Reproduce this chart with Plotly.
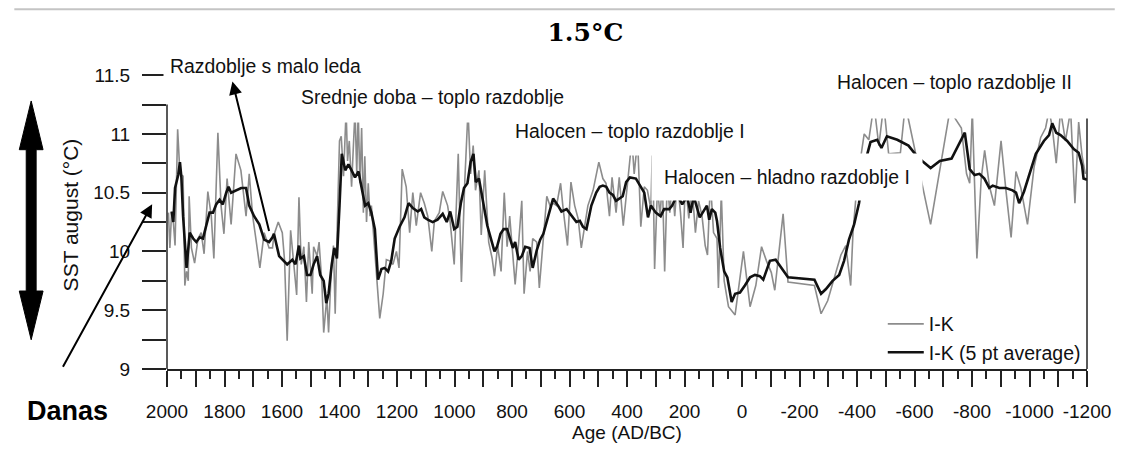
import plotly.graph_objects as go

# ---------------- data ----------------
raw_years = [1995, 1990, 1984, 1978, 1972, 1963, 1955, 1944, 1938, 1932, 1926, 1923, 1915, 1904, 1892,
             1881, 1871, 1858, 1846, 1837, 1823, 1812, 1802, 1791, 1777, 1760, 1743, 1725, 1714, 1702,
             1691, 1677, 1662, 1645, 1633, 1628, 1613, 1599, 1591, 1582, 1570, 1559, 1549, 1541, 1533,
             1524, 1515, 1507, 1495, 1490, 1478, 1471, 1461, 1455, 1444, 1438, 1429, 1421, 1415, 1407,
             1400, 1394, 1386, 1377, 1372, 1366, 1358, 1352, 1346, 1340, 1335, 1329, 1323, 1317, 1312,
             1306, 1300, 1294, 1289, 1283, 1271, 1260, 1248, 1237, 1225, 1214, 1202, 1193, 1182, 1168,
             1156, 1145, 1133, 1118, 1105, 1093, 1079, 1070, 1053, 1041, 1024, 1015, 1001, 987, 976,
             964, 953, 944, 935, 927, 915, 907, 895, 881, 869, 861, 850, 838, 827, 817,
             808, 797, 789, 777, 766, 758, 746, 737, 728, 714, 705, 691, 679, 668, 656,
             645, 631, 622, 607, 595, 582, 570, 559, 547, 536, 518, 498, 484, 473, 461,
             452, 438, 427, 413, 398, 383, 375, 363, 352, 340, 329, 317, 311, 304, 294,
             285, 277, 269, 260, 251, 243, 234, 225, 214, 205, 197, 185, 174, 162, 151,
             139, 128, 120, 110, 99, 87, 82, 72, 62, 47, 24, 13, -5, -28, -48,
             -68, -85, -102, -114, -143, -160, -252, -275, -298, -321, -344, -361, -378, -386, -401,
             -425, -441, -459, -476, -493, -510, -551, -568, -656, -723, -763, -781, -792, -801, -817,
             -832, -844, -861, -878, -901, -918, -936, -953, -970, -993, -1016, -1039, -1056, -1068, -1079,
             -1093, -1108, -1125, -1143, -1158, -1171, -1183, -1194]
raw_sst = [10.33, 10.03, 10.33, 10.25, 10.05, 11.04, 10.66, 10.64, 9.71, 9.83, 9.75, 10.47, 10.03, 9.90, 10.11,
           10.16, 9.98, 10.51, 10.30, 9.94, 11.01, 10.39, 10.15, 10.62, 10.23, 10.83, 10.69, 10.30, 10.66, 10.30,
           10.11, 9.86, 10.16, 10.03, 10.03, 10.14, 10.25, 10.16, 9.92, 9.24, 10.18, 9.86, 9.63, 10.46, 9.89,
           10.04, 9.57, 10.08, 9.64, 10.04, 9.96, 10.08, 9.72, 9.31, 9.61, 9.31, 9.83, 10.05, 9.47, 10.30,
           10.94, 10.98, 10.64, 11.20, 10.77, 10.94, 10.55, 10.88, 11.20, 10.66, 11.20, 10.58, 11.05, 10.33, 10.81,
           10.25, 10.58, 10.30, 10.39, 10.19, 9.80, 9.43, 9.64, 9.93, 9.92, 9.89, 10.00, 9.86, 10.70, 10.55,
           10.16, 10.50, 10.22, 10.50, 10.41, 10.30, 10.00, 10.26, 10.33, 10.51, 10.39, 10.25, 9.89, 10.83, 9.74,
           10.61, 11.20, 10.66, 10.90, 10.52, 10.69, 10.14, 10.69, 10.08, 9.94, 9.79, 10.05, 9.83, 10.50, 10.04,
           10.30, 9.92, 9.72, 10.07, 10.43, 9.64, 10.00, 9.83, 10.11, 10.08, 9.69, 10.11, 10.47, 10.39, 10.41,
           10.39, 10.58, 10.36, 10.05, 10.59, 10.39, 10.28, 10.03, 10.22, 10.39, 10.52, 10.76, 10.62, 10.58, 10.30,
           10.63, 10.33, 10.63, 10.22, 10.58, 10.95, 10.66, 10.95, 10.21, 10.55, 10.52, 10.36, 10.95, 9.85, 10.55,
           10.30, 10.60, 9.83, 10.60, 10.33, 10.60, 10.30, 10.60, 10.33, 10.03, 10.60, 10.28, 10.55, 10.16, 10.43,
           10.30, 10.05, 9.97, 10.60, 10.16, 10.11, 9.69, 10.50, 9.75, 9.53, 9.46, 9.67, 10.00, 9.53, 9.71,
           10.04, 9.92, 9.82, 9.67, 10.32, 9.74, 9.71, 9.47, 9.58, 9.78, 9.97, 10.05, 9.71, 10.16, 10.60,
           11.00, 10.95, 11.25, 10.90, 11.25, 10.83, 10.84, 11.25, 10.23, 11.20, 11.05, 10.66, 10.58, 11.20, 9.94,
           10.62, 10.86, 10.55, 10.39, 10.94, 10.52, 10.12, 10.68, 10.54, 10.23, 10.72, 10.97, 11.05, 11.20, 11.06,
           10.75, 11.20, 10.94, 11.20, 10.41, 11.10, 10.81, 10.66]

avg_years = [1984, 1978, 1972, 1961, 1955, 1950, 1944, 1932, 1921, 1909, 1898, 1886, 1875, 1863, 1852,
             1840, 1829, 1817, 1806, 1794, 1786, 1777, 1760, 1742, 1725, 1714, 1697, 1679, 1662, 1645,
             1633, 1628, 1610, 1599, 1582, 1564, 1553, 1541, 1536, 1524, 1513, 1501, 1490, 1478, 1467,
             1455, 1446, 1438, 1427, 1418, 1409, 1400, 1392, 1380, 1369, 1358, 1346, 1334, 1323, 1311,
             1300, 1289, 1277, 1266, 1254, 1243, 1231, 1220, 1208, 1191, 1174, 1160, 1145, 1128, 1116,
             1105, 1093, 1076, 1059, 1041, 1027, 1015, 1001, 990, 978, 967, 955, 944, 934, 926,
             915, 903, 886, 861, 852, 840, 829, 817, 806, 797, 789, 777, 766, 754, 739,
             728, 714, 702, 691, 674, 657, 640, 628, 610, 593, 576, 564, 553, 541, 524,
             507, 495, 484, 472, 461, 449, 438, 426, 415, 403, 390, 369, 352, 340, 327,
             317, 300, 283, 271, 253, 243, 225, 208, 191, 179, 168, 147, 134, 122, 114,
             105, 93, 87, 76, 62, 51, 36, 24, 7, -10, -28, -45, -62, -74, -97,
             -117, -137, -160, -252, -275, -292, -315, -338, -355, -372, -390, -407, -425, -436, -447,
             -470, -485, -504, -540, -579, -602, -631, -656, -688, -729, -775, -792, -809, -826, -843,
             -860, -872, -895, -918, -941, -953, -964, -981, -999, -1022, -1050, -1068, -1079, -1093, -1108,
             -1131, -1154, -1171, -1183, -1188, -1200]
avg_sst = [10.34, 10.25, 10.54, 10.65, 10.76, 10.63, 10.30, 9.86, 10.16, 10.11, 10.08, 10.12, 10.11, 10.23, 10.33,
           10.33, 10.40, 10.44, 10.40, 10.50, 10.55, 10.50, 10.52, 10.54, 10.54, 10.39, 10.30, 10.23, 10.10, 10.08,
           10.12, 10.15, 9.96, 9.93, 9.89, 9.93, 9.89, 10.05, 9.94, 9.96, 9.80, 9.80, 9.89, 9.96, 9.80,
           9.75, 9.56, 9.64, 9.89, 10.03, 9.94, 10.39, 10.83, 10.69, 10.74, 10.69, 10.63, 10.68, 10.55, 10.39,
           10.41, 10.33, 10.19, 9.76, 9.85, 9.86, 9.83, 9.92, 10.11, 10.21, 10.29, 10.41, 10.37, 10.34, 10.36,
           10.29, 10.27, 10.25, 10.27, 10.32, 10.25, 10.34, 10.19, 10.21, 10.41, 10.54, 10.58, 10.76, 10.83, 10.59,
           10.62, 10.45, 10.22, 10.00, 10.04, 10.15, 10.19, 10.19, 10.11, 10.03, 10.08, 9.93, 9.96, 10.04, 10.03,
           9.86, 10.01, 10.10, 10.15, 10.30, 10.45, 10.39, 10.34, 10.36, 10.30, 10.25, 10.26, 10.21, 10.19, 10.39,
           10.50, 10.55, 10.56, 10.55, 10.50, 10.48, 10.43, 10.45, 10.47, 10.59, 10.63, 10.62, 10.55, 10.50, 10.29,
           10.39, 10.33, 10.30, 10.36, 10.36, 10.39, 10.48, 10.40, 10.47, 10.33, 10.47, 10.29, 10.34, 10.39, 10.27,
           10.36, 10.33, 10.26, 10.03, 9.83, 9.78, 9.57, 9.64, 9.65, 9.71, 9.78, 9.80, 9.79, 9.76, 9.92,
           9.93, 9.86, 9.78, 9.76, 9.64, 9.68, 9.75, 9.80, 9.92, 10.10, 10.23, 10.41, 10.70, 10.83, 10.93,
           10.95, 10.88, 10.98, 10.95, 10.90, 10.83, 10.76, 10.71, 10.77, 10.79, 11.01, 10.70, 10.65, 10.66, 10.62,
           10.54, 10.56, 10.54, 10.54, 10.52, 10.50, 10.41, 10.51, 10.66, 10.83, 10.94, 10.99, 11.09, 11.01, 10.99,
           10.94, 10.87, 10.84, 10.73, 10.62, 10.61]

x_tick_vals = list(range(2000, -1201, -100))
x_tick_text = [str(v) if v % 200 == 0 else "" for v in x_tick_vals]
y_tick_vals = [9, 9.5, 10, 10.5, 11, 11.5]
y_tick_text = ["9", "9.5", "10", "10.5", "11", "11.5"]
y_minor_vals = [9.25, 9.75, 10.25, 10.75, 11.25]

period_labels = ["Razdoblje s malo leda", "Srednje doba – toplo razdoblje", "Halocen – toplo razdoblje I",
                 "Halocen – hladno razdoblje I", "Halocen – toplo razdoblje II"]

# ---------------- layout geometry (pixels) ----------------
W, H = 1123, 450
L, R, T, B = 167, 1095, 61, 377


def px(xp):
    return (xp - L) / (R - L)


def py(yp):
    return (B - yp) / (B - T)


FONT = "Liberation Sans, Arial, sans-serif"
AX = "#222222"

fig = go.Figure()
fig.add_trace(go.Scatter(x=raw_years, y=raw_sst, mode="lines", name="I-K",
                         line=dict(color="#8c8c8c", width=1.6)))
fig.add_trace(go.Scatter(x=avg_years, y=avg_sst, mode="lines", name="I-K (5 pt average)",
                         line=dict(color="#111111", width=2.6)))

shapes = []
# axis lines
shapes.append(dict(type="line", xref="paper", yref="y", x0=0, x1=0, y0=9, y1=11.25,
                   line=dict(color=AX, width=1.5), layer="above"))
shapes.append(dict(type="line", xref="paper", yref="y", x0=1, x1=1, y0=9, y1=11.62,
                   line=dict(color=AX, width=1.5), layer="above"))
# top grey rule
shapes.append(dict(type="line", xref="paper", yref="paper", x0=px(13), x1=px(1123), y0=py(8), y1=py(8),
                   line=dict(color="#c4c4c4", width=2)))
# big double-headed arrow
pts = [(30, 102), (42, 152), (35, 152), (35, 297), (42, 297), (30, 347),
       (18, 297), (25, 297), (25, 152), (18, 152)]
path = "M " + " L ".join(f"{px(a):.5f},{py(b):.5f}" for a, b in pts) + " Z"
shapes.append(dict(type="path", xref="paper", yref="paper", path=path,
                   fillcolor="#000000", line=dict(color="#000000", width=1)))

ann = []
# period boxes (white boxes hide the curves beneath, as in the original)
box_specs = [  # (label index, centre x px, centre y px, pad)
    (1, 435, 98, 14),
    (2, 634, 133, 13),
    (3, 792, 180, 12),
    (4, 961, 83, 25),
    (0, 266, 66, 6),
]
for idx, cx, cy, pad in box_specs:
    ann.append(dict(text=period_labels[idx], xref="paper", yref="paper", x=px(cx), y=py(cy),
                    xanchor="center", yanchor="middle", showarrow=False, bgcolor="#ffffff",
                    borderpad=pad, font=dict(family=FONT, size=19.4, color="#111111")))

# arrows
ann.append(dict(text="", xref="paper", yref="paper", x=px(233), y=py(82), ax=37, ay=151,
                showarrow=True, arrowhead=2, arrowsize=1.3, arrowwidth=2, arrowcolor="#000000"))
ann.append(dict(text="", xref="paper", yref="paper", x=px(152), y=py(208), ax=-90, ay=164,
                showarrow=True, arrowhead=2, arrowsize=1.3, arrowwidth=2, arrowcolor="#000000"))
# Danas
ann.append(dict(text="<b>Danas</b>", xref="paper", yref="paper", x=px(67), y=py(420),
                xanchor="center", yanchor="middle", showarrow=False,
                font=dict(family=FONT, size=27, color="#000000")))

fig.update_layout(
    width=W, height=H, autosize=False,
    margin=dict(l=L, r=W - R, t=T, b=H - B, pad=0),
    paper_bgcolor="#ffffff", plot_bgcolor="#ffffff",
    title=dict(text="<b>1.5°C</b>", x=px(589), xref="paper", xanchor="center",
               y=1 - 32 / H, yref="container", yanchor="middle",
               font=dict(family="DejaVu Serif, serif", size=25, color="#000000")),
    font=dict(family=FONT, size=19, color="#111111"),
    showlegend=True,
    legend=dict(x=px(889), y=py(311), xanchor="left", yanchor="top", bgcolor="rgba(255,255,255,0)",
                font=dict(family=FONT, size=19.5, color="#111111"), tracegroupgap=0, itemwidth=36),
    shapes=shapes,
    annotations=ann,
)

fig.update_xaxes(range=[2000, -1200], tickmode="array", tickvals=x_tick_vals, ticktext=x_tick_text,
                 ticks="outside", ticklen=16, tickwidth=1.5, tickcolor=AX,
                 showline=True, linecolor=AX, linewidth=1.5, showgrid=False, zeroline=False,
                 tickfont=dict(family=FONT, size=19, color="#111111"), ticklabelstandoff=8,
                 minor=dict(tickmode="linear", tick0=0, dtick=50, ticks="outside", ticklen=8,
                            tickwidth=1.5, tickcolor=AX, showgrid=False),
                 title=dict(text="Age (AD/BC)", standoff=3,
                            font=dict(family=FONT, size=19, color="#111111")))
fig.update_yaxes(range=[9, 11.62], tickmode="array", tickvals=y_tick_vals, ticktext=y_tick_text,
                 ticks="outside", ticklen=24, tickwidth=1.5, tickcolor=AX,
                 showline=False, showgrid=False, zeroline=False,
                 tickfont=dict(family=FONT, size=19, color="#111111"), ticklabelstandoff=8,
                 minor=dict(tickmode="array", tickvals=y_minor_vals, ticks="outside", ticklen=24,
                            tickwidth=1.5, tickcolor=AX, showgrid=False),
                 title=dict(text="SST august (°C)", standoff=8,
                            font=dict(family=FONT, size=21, color="#111111")))

fig.write_html("out.html")
